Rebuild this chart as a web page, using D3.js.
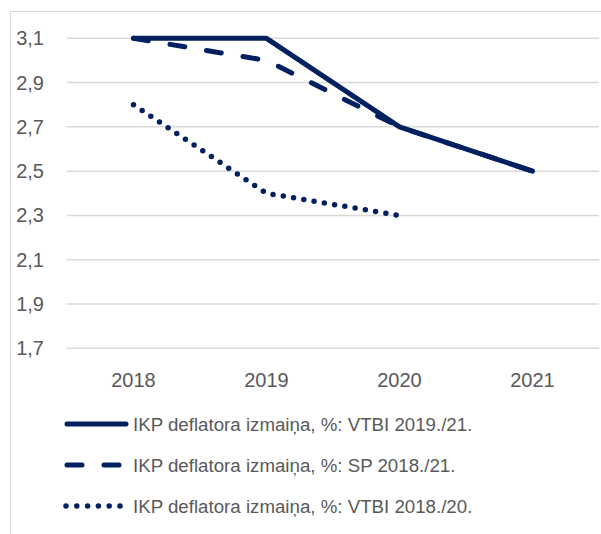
<!DOCTYPE html>
<html>
<head>
<meta charset="utf-8">
<script src="https://cdn.jsdelivr.net/npm/d3@7"></script>
<style>
  body { margin: 0; background: #fff; }
  svg text { font-family: "Liberation Sans", Arial, sans-serif; fill: #595959; }
</style>
</head>
<body>
<svg id="chart" width="601" height="534"></svg>
<script>
// data
const years = ["2018", "2019", "2020", "2021"];
const vtbi1921 = [3.1, 3.1, 2.7, 2.5];
const sp1821 = [3.1, 3.0, 2.7, 2.5];
const vtbi1820 = [2.8, 2.4, 2.3, null];
const yTicks = [1.7, 1.9, 2.1, 2.3, 2.5, 2.7, 2.9, 3.1];
const seriesNames = [
  "IKP deflatora izmaiņa, %: VTBI 2019./21.",
  "IKP deflatora izmaiņa, %: SP 2018./21.",
  "IKP deflatora izmaiņa, %: VTBI 2018./20."
];

const navy = "#002060";
const styles = [
  { dash: null, width: 5, cap: "round" },
  { dash: "15,22", width: 5, cap: "round" },
  { dash: "0,10.4", width: 5.5, cap: "round" }
];

const svg = d3.select("#chart");

// outer chart frame
svg.append("rect")
  .attr("x", 10.5).attr("y", 11.5)
  .attr("width", 620).attr("height", 540)
  .attr("fill", "none").attr("stroke", "#d9d9d9");

const x = d3.scaleBand().domain(years).range([67, 599]);
const y = d3.scaleLinear().domain([1.7, 3.1]).range([348.3, 38.3]);

// gridlines
svg.append("g").selectAll("line")
  .data(yTicks)
  .join("line")
  .attr("x1", 67).attr("x2", 599)
  .attr("y1", d => y(d)).attr("y2", d => y(d))
  .attr("stroke", "#d9d9d9").attr("stroke-width", 1.5);

// y labels
const fmt = d => d.toFixed(1).replace(".", ",");
svg.append("g").selectAll("text")
  .data(yTicks)
  .join("text")
  .attr("x", 44).attr("y", d => y(d))
  .attr("text-anchor", "end").attr("dy", "0.35em")
  .attr("font-size", 20)
  .text(fmt);

// x labels
svg.append("g").selectAll("text")
  .data(years)
  .join("text")
  .attr("x", d => x(d) + x.bandwidth() / 2).attr("y", 380)
  .attr("text-anchor", "middle").attr("dy", "0.35em")
  .attr("font-size", 20)
  .text(d => d);

const line = d3.line()
  .defined(d => d.v != null)
  .x(d => x(d.year) + x.bandwidth() / 2)
  .y(d => y(d.v));

const allSeries = [vtbi1921, sp1821, vtbi1820];
allSeries.forEach((vals, i) => {
  const pts = years.map((yr, j) => ({ year: yr, v: vals[j] }));
  svg.append("path")
    .datum(pts)
    .attr("d", line)
    .attr("fill", "none")
    .attr("stroke", navy)
    .attr("stroke-width", styles[i].width)
    .attr("stroke-linecap", styles[i].cap)
    .attr("stroke-linejoin", "round")
    .attr("stroke-dasharray", styles[i].dash);
});

// legend
const legendY = [424, 465, 506];
const leg = svg.append("g").selectAll("g")
  .data(seriesNames)
  .join("g")
  .attr("transform", (d, i) => `translate(0,${legendY[i]})`);

leg.append("line")
  .attr("x1", (d, i) => i == 2 ? 66 : 67).attr("x2", (d, i) => i == 1 ? 120 : 126)
  .attr("y1", 0).attr("y2", 0)
  .attr("stroke", navy)
  .attr("stroke-width", (d, i) => styles[i].width)
  .attr("stroke-linecap", "round")
  .attr("stroke-dasharray", (d, i) => i == 1 ? "15,22" : (i == 2 ? "0,10.8" : null));

leg.append("text")
  .attr("x", 133).attr("y", 0).attr("dy", "0.35em")
  .attr("font-size", 18.7)
  .text(d => d);
</script>
</body>
</html>
